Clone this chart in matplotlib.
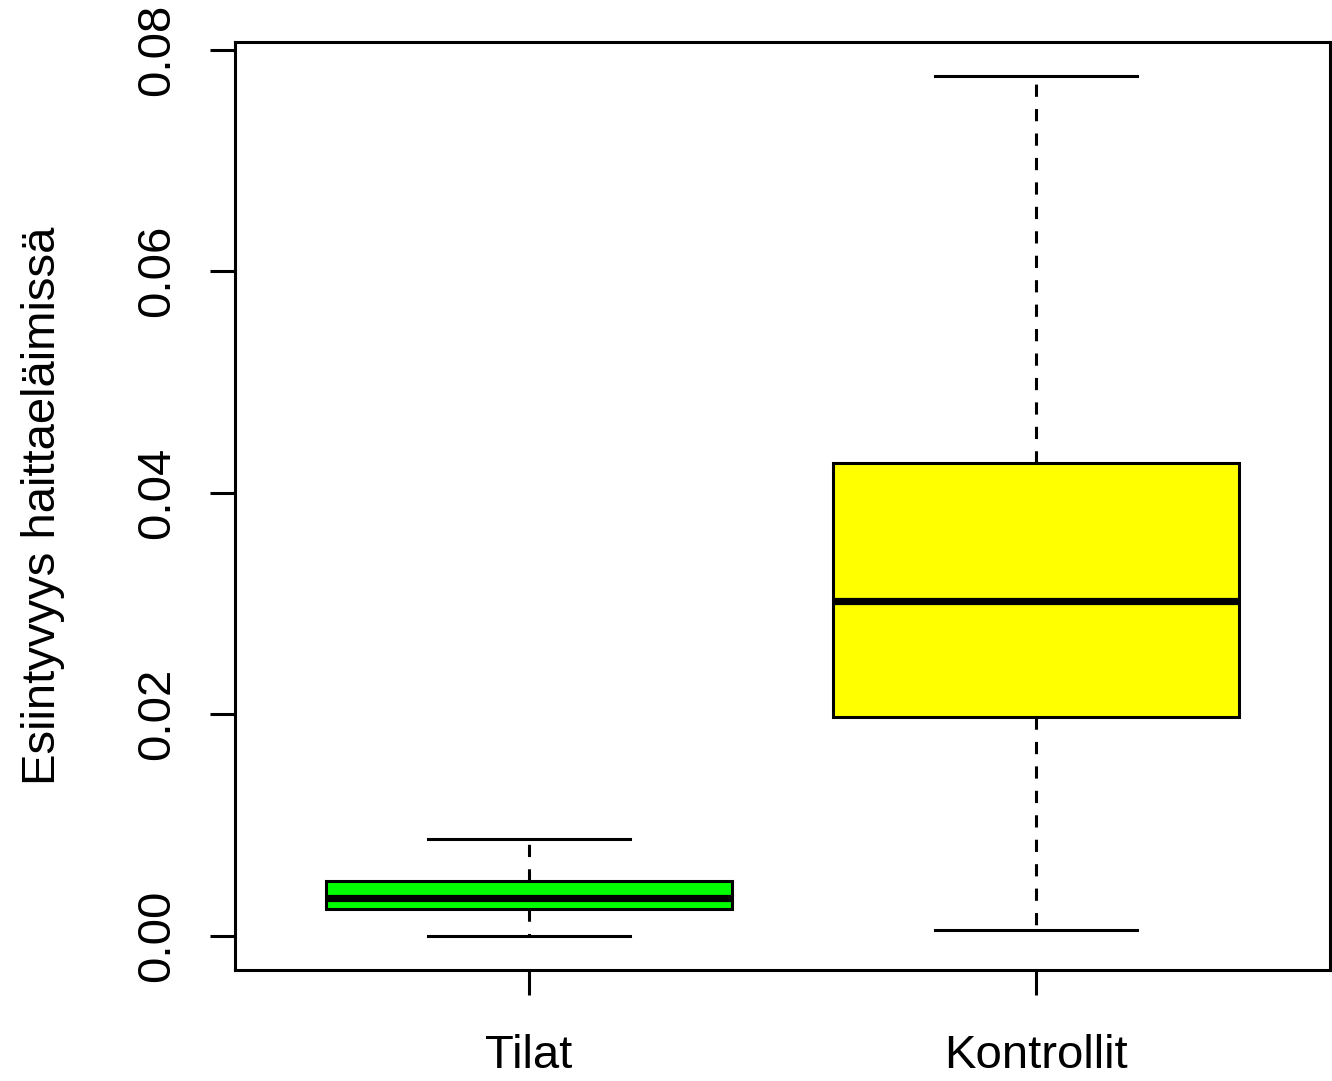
import matplotlib
matplotlib.use("Agg")
import matplotlib.pyplot as plt

plt.rcParams["font.family"] = ["Liberation Sans", "DejaVu Sans"]

# five-number summaries
groups = ["Tilat", "Kontrollit"]
whisker_lo = [0.0000, 0.00055]
q1 = [0.00244, 0.0197]
median = [0.00344, 0.0302]
q3 = [0.00489, 0.0427]
whisker_hi = [0.00869, 0.0776]
fills = ["#00FF00", "#FFFF00"]
yticks = [0.00, 0.02, 0.04, 0.06, 0.08]
ylabel = "Esiintyvyys haittaeläimissä"

stats = [{"label": g, "whislo": lo, "q1": a, "med": m, "q3": b, "whishi": hi, "fliers": []}
         for g, lo, a, m, b, hi in zip(groups, whisker_lo, q1, median, q3, whisker_hi)]

fig = plt.figure(figsize=(13.32, 10.81), dpi=100)
ax = fig.add_axes([0.1764, 0.1027, 0.8221, 0.8584])

lw = 2.2
bp = ax.bxp(stats, positions=[1, 2], widths=0.8, patch_artist=True, showfliers=False,
            boxprops=dict(linewidth=lw, edgecolor="black"),
            medianprops=dict(linewidth=5.2, color="black", solid_capstyle="butt"),
            whiskerprops=dict(linewidth=lw, color="black", linestyle=(0, (4, 4))),
            capprops=dict(linewidth=lw, color="black"),
            capwidths=0.4)
for patch, c in zip(bp["boxes"], fills):
    patch.set_facecolor(c)

lo, hi = min(whisker_lo), max(whisker_hi)
pad = (hi - lo) * 0.04
ax.set_xlim(0.42, 2.58)
ax.set_ylim(lo - pad, hi + pad)

ax.set_yticks(yticks)
ax.set_yticklabels([f"{t:.2f}" for t in yticks], rotation=90, va="center")
ax.set_xticks([1, 2])
ax.set_xticklabels(groups)
ax.tick_params(axis="both", labelsize=34, width=lw, length=18, pad=22, direction="out")
ax.tick_params(axis="x", pad=28)
for s in ax.spines.values():
    s.set_linewidth(lw)

ax.set_ylabel(ylabel, fontsize=34)
ax.yaxis.set_label_coords(-0.155, 0.50)

fig.savefig("out.png", dpi=100)
